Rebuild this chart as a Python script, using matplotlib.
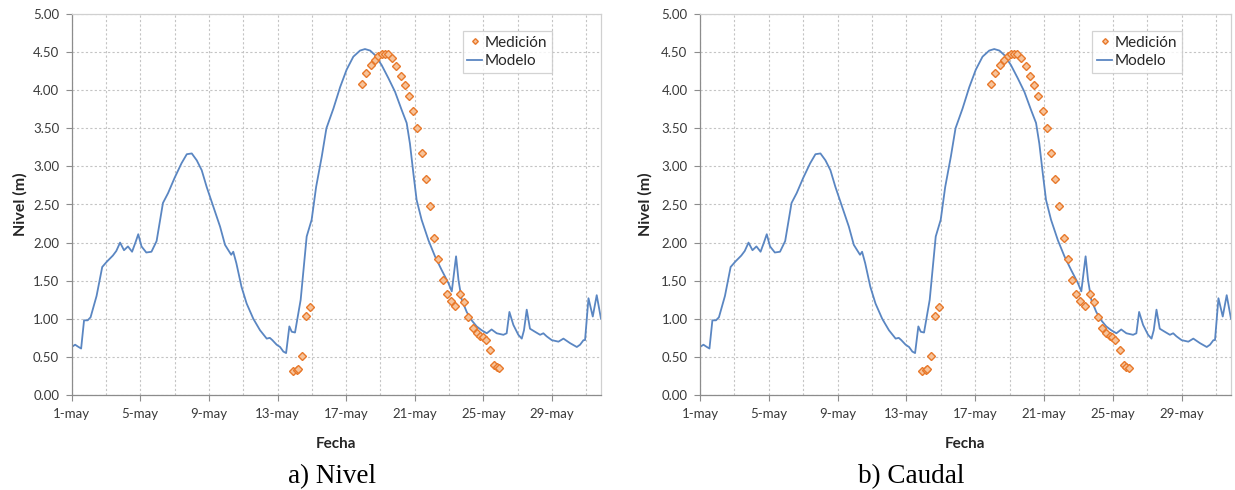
import numpy as np
import matplotlib
matplotlib.use("Agg")
import matplotlib.pyplot as plt

# days counted from 1-may 00:00
model_day = [0.00, 0.20, 0.40, 0.55, 0.72, 0.93, 1.10, 1.45, 1.78, 2.05, 2.40, 2.60,
             2.82, 3.05, 3.28, 3.52, 3.73, 3.88, 4.07, 4.35, 4.65, 4.95, 5.32, 5.62,
             6.00, 6.40, 6.71, 7.00, 7.29, 7.58, 7.87, 8.26, 8.65, 8.94, 9.30, 9.42,
             9.60, 9.90, 10.20, 10.59, 10.98, 11.37, 11.55, 11.70, 11.95, 12.15, 12.34,
             12.50, 12.69, 12.83, 13.02, 13.35, 13.70, 13.99, 14.25, 14.58, 14.85,
             15.26, 15.65, 16.03, 16.42, 16.81, 17.10, 17.40, 17.69, 18.07, 18.46,
             18.85, 19.24, 19.53, 19.72, 19.92, 20.11, 20.40, 20.80, 21.18, 21.57,
             21.96, 22.16, 22.29, 22.41, 22.55, 22.74, 23.03, 23.32, 23.61, 23.90,
             24.20, 24.48, 24.78, 25.17, 25.36, 25.52, 25.75, 26.04, 26.24, 26.37,
             26.53, 26.72, 27.01, 27.31, 27.50, 27.69, 27.99, 28.38, 28.67, 29.06,
             29.45, 29.64, 29.84, 29.93, 30.13, 30.38, 30.61, 30.86]
model_level = [0.63, 0.66, 0.63, 0.61, 0.98, 0.98, 1.02, 1.30, 1.68, 1.75, 1.83, 1.89,
               2.00, 1.90, 1.95, 1.88, 2.01, 2.11, 1.95, 1.87, 1.88, 2.02, 2.52, 2.65,
               2.85, 3.04, 3.16, 3.17, 3.08, 2.95, 2.73, 2.47, 2.21, 1.97, 1.84, 1.88,
               1.73, 1.42, 1.20, 1.00, 0.85, 0.74, 0.75, 0.72, 0.66, 0.63, 0.57,
               0.55, 0.90, 0.83, 0.82, 1.25, 2.08, 2.30, 2.73, 3.13, 3.50,
               3.76, 4.04, 4.27, 4.44, 4.52, 4.54, 4.52, 4.46, 4.33, 4.16,
               3.98, 3.74, 3.57, 3.30, 2.91, 2.56, 2.30, 2.03, 1.82, 1.64,
               1.47, 1.36, 1.60, 1.82, 1.51, 1.25, 1.09, 0.98, 0.90, 0.85,
               0.81, 0.86, 0.81, 0.79, 0.81, 1.09, 0.92, 0.79, 0.74, 0.85,
               1.12, 0.87, 0.83, 0.79, 0.81, 0.77, 0.72, 0.70, 0.74, 0.68,
               0.63, 0.66, 0.72, 0.72, 1.27, 1.03, 1.31, 1.00]

meas_day = [12.89, 13.12, 13.22, 13.41, 13.64, 13.90,
            16.91, 17.16, 17.43, 17.69, 17.88, 18.07, 18.27, 18.43, 18.66, 18.92,
            19.18, 19.44, 19.67, 19.92, 20.15, 20.40, 20.64, 20.89, 21.14, 21.38,
            21.63, 21.87, 22.10, 22.35, 22.64, 22.87, 23.13, 23.38, 23.61, 23.81,
            23.96, 24.14, 24.39, 24.63, 24.78, 24.91]
meas_level = [0.31, 0.33, 0.34, 0.51, 1.04, 1.16,
              4.08, 4.23, 4.33, 4.40, 4.45, 4.47, 4.48, 4.48, 4.42, 4.32,
              4.19, 4.07, 3.92, 3.73, 3.50, 3.18, 2.83, 2.48, 2.06, 1.78,
              1.51, 1.33, 1.23, 1.17, 1.32, 1.22, 1.03, 0.88, 0.81, 0.78,
              0.76, 0.72, 0.59, 0.40, 0.37, 0.35]

tick_days = [0, 4, 8, 12, 16, 20, 24, 28]
tick_labels = ["1-may", "5-may", "9-may", "13-may", "17-may", "21-may", "25-may", "29-may"]
captions = ["a) Nivel", "b) Caudal"]

LINE_COLOR = "#5A86C2"
MARK_EDGE = "#E8792B"
MARK_FACE = "#F7C39A"
GRID_COLOR = "#C4C4C4"
TXT = "#3A3A3A"

plt.rcParams['font.family'] = ['Lato', 'DejaVu Sans']

fig = plt.figure(figsize=(12.35, 4.9), dpi=100)
axes = [fig.add_axes([71.7 / 1235, 1 - 395 / 490, 529.3 / 1235, 381 / 490]),
        fig.add_axes([700 / 1235, 1 - 395 / 490, 531 / 1235, 381 / 490])]


def draw_panel(ax, ylab_x):
    ax.plot(meas_day, meas_level, linestyle="none", marker="D", markersize=3.6,
            markerfacecolor=MARK_FACE, markeredgecolor=MARK_EDGE, markeredgewidth=1.0,
            label="Medición", zorder=3)
    ax.plot(model_day, model_level, color=LINE_COLOR, lw=1.3, label="Modelo", zorder=2)

    ax.set_xlim(0, 30.86)
    ax.set_ylim(0, 5)
    ax.set_xticks(tick_days)
    ax.set_xticklabels(tick_labels)
    ax.set_xticks(np.arange(2, 31, 4), minor=True)
    ax.set_yticks(np.arange(0, 5.01, 0.5))
    ax.set_yticklabels([f"{v:.2f}" for v in np.arange(0, 5.01, 0.5)])

    ax.grid(True, which="both", axis="x", color=GRID_COLOR, ls=(0, (2, 2)), lw=0.8)
    ax.grid(True, which="major", axis="y", color=GRID_COLOR, ls=(0, (2, 2)), lw=0.8)
    ax.set_axisbelow(True)

    ax.tick_params(axis="both", which="major", labelsize=9.5, colors="#8C8C8C",
                   labelcolor=TXT, length=4, width=0.8, direction="out")
    ax.tick_params(axis="x", which="minor", length=0)
    ax.tick_params(axis="x", pad=5)
    ax.tick_params(axis="y", pad=5)
    for side in ["left", "bottom"]:
        ax.spines[side].set_color("#8C8C8C")
        ax.spines[side].set_linewidth(0.9)
    for side in ["top", "right"]:
        ax.spines[side].set_color("#D0D0D0")
        ax.spines[side].set_linewidth(0.9)

    ax.set_ylabel("Nivel (m)", fontsize=11.5, fontweight="bold", color="#262626")
    ax.yaxis.set_label_coords(ylab_x, 0.5)
    ax.set_xlabel("Fecha", fontsize=11, fontweight="bold", color="#262626")
    ax.xaxis.set_label_coords(0.5, -0.11)

    leg = ax.legend(loc="upper right", bbox_to_anchor=(0.907, 0.955), fontsize=11,
                    frameon=True, fancybox=False, handlelength=1.0, handletextpad=0.15,
                    borderpad=0.3, labelspacing=0.3, borderaxespad=0, markerscale=0.8)
    leg.get_frame().set_edgecolor("#C8C8C8")
    leg.get_frame().set_linewidth(0.9)
    for t in leg.get_texts():
        t.set_color("#262626")


draw_panel(axes[0], -0.083)
draw_panel(axes[1], -0.089)

fig.text(332 / 1235, 1 - 477 / 490, captions[0], ha="center", va="center",
         fontsize=19.5, family="Liberation Serif", color="black")
fig.text(911 / 1235, 1 - 477 / 490, captions[1], ha="center", va="center",
         fontsize=19.5, family="Liberation Serif", color="black")

fig.savefig("out.png", dpi=100)
